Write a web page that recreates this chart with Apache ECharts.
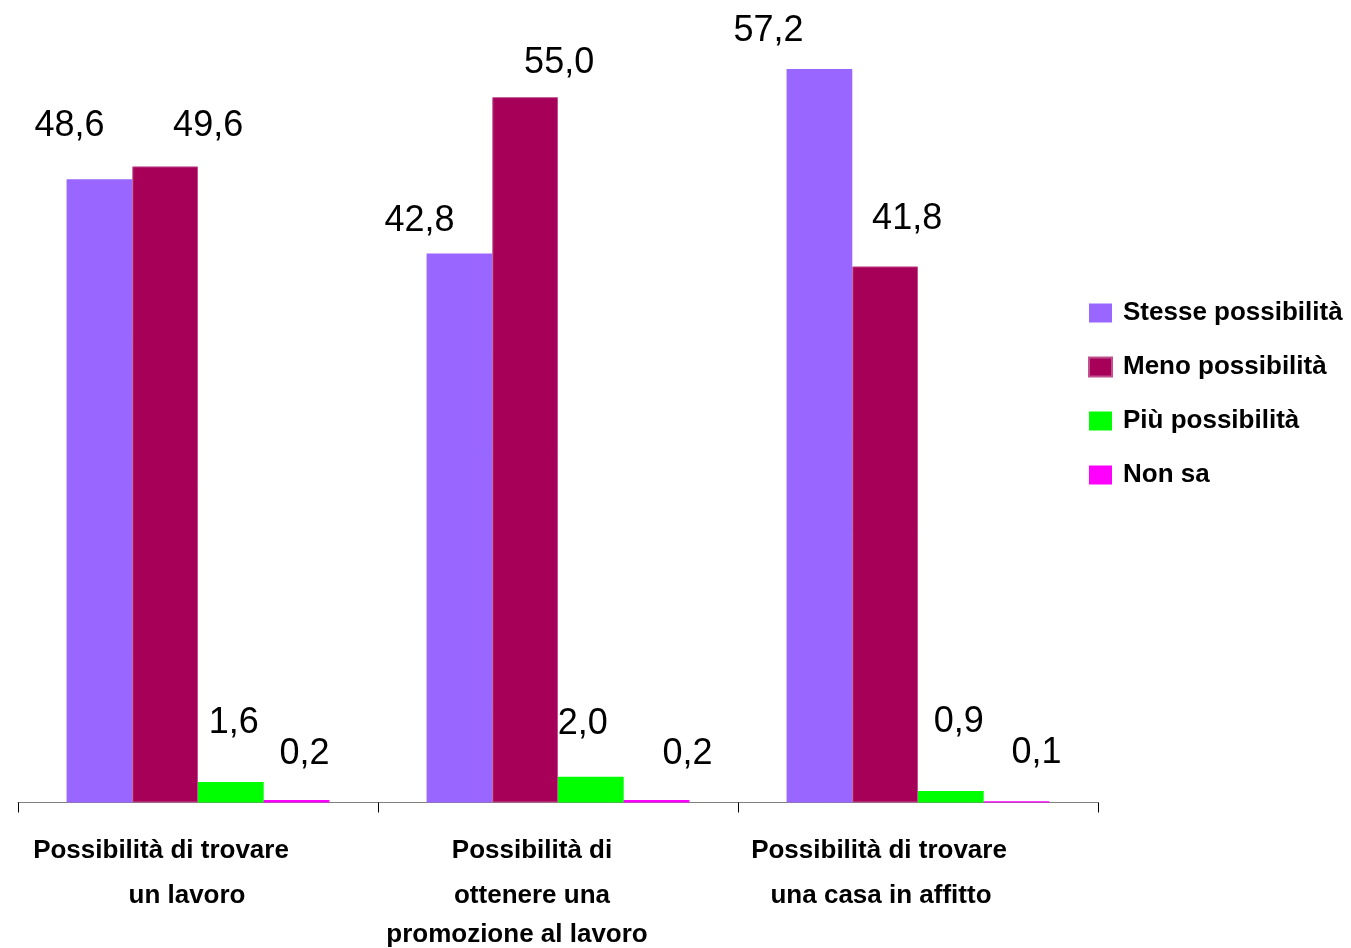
<!DOCTYPE html>
<html>
<head>
<meta charset="utf-8">
<title>Possibilità</title>
<script src="https://cdn.jsdelivr.net/npm/echarts@6/dist/echarts.min.js"></script>
<style>
  html, body { margin: 0; padding: 0; background: #ffffff; }
  #chart { width: 1351px; height: 948px; }
</style>
</head>
<body>
<div id="chart"></div>
<script>
// Categories (line breaks as printed under the axis)
const categories = [
  'Possibilità di trovare\nun lavoro',
  'Possibilità di\nottenere una\npromozione al lavoro',
  'Possibilità di trovare\nuna casa in affitto'
];

// Series names and values (%)
const seriesNames = ['Stesse possibilità', 'Meno possibilità', 'Più possibilità', 'Non sa'];
const stesse = [48.6, 42.8, 57.2];
const meno = [49.6, 55.0, 41.8];
const piu = [1.6, 2.0, 0.9];
const nonSa = [0.2, 0.2, 0.1];

const seriesValues = [stesse, meno, piu, nonSa];
const colors = ['#9966FF', '#A60058', '#00FF00', '#FF00FF'];
const borders = ['#9966FF', '#C0508E', '#00FF00', '#FF00FF'];

// Hand-placed nudges [dx, dy] for the value labels of each series, per category
const labelNudge = [
  [[-30, -35], [-40, -15], [-51, -20]],
  [[43, -22], [34, -16], [22, -29]],
  [[3, -41], [-8, -35], [8, -51]],
  [[8, -28], [31, -28], [20, -30]]
];

// Horizontal shift of each category label line relative to the category centre
const catLineShift = [
  [-37, -11],
  [-26, -26, -41],
  [-39, -37]
];

const FONT = "'Liberation Sans', Arial, Helvetica, sans-serif";

const rich = {};
catLineShift.forEach((lines, i) => {
  lines.forEach((s, j) => {
    rich['c' + i + '_' + j] = {
      fontFamily: FONT,
      fontSize: 26,
      fontWeight: 'bold',
      color: '#000000',
      lineHeight: j === 2 ? 33 : 45,
      padding: [0, -2 * s, 0, 0]
    };
  });
});

const fmt = v => v.toFixed(1).replace('.', ',');

const series = seriesValues.map((vals, s) => ({
  name: seriesNames[s],
  type: 'bar',
  barGap: '0%',
  barCategoryGap: '27%',
  itemStyle: { color: colors[s], borderColor: borders[s], borderWidth: s === 1 ? 1 : 0 },
  data: vals.map((v, i) => ({
    value: v,
    label: { offset: labelNudge[s][i] }
  })),
  label: {
    show: true,
    position: 'top',
    distance: 0,
    fontFamily: FONT,
    fontSize: 36,
    color: '#000000',
    formatter: p => fmt(p.value)
  }
}));

const chart = echarts.init(document.getElementById('chart'), null, { renderer: 'canvas' });
chart.setOption({
  animation: false,
  backgroundColor: '#ffffff',
  color: colors,
  grid: { left: 18, right: 253, top: 33, bottom: 145, containLabel: false },
  legend: {
    orient: 'vertical',
    left: 1083,
    top: 295,
    itemWidth: 23,
    itemHeight: 19,
    itemGap: 28,
    icon: 'rect',
    textStyle: {
      fontFamily: FONT,
      fontSize: 26,
      fontWeight: 'bold',
      color: '#000000',
      padding: [0, 0, 0, 6]
    },
    data: seriesNames
  },
  xAxis: {
    type: 'category',
    data: categories,
    axisLine: { show: true, lineStyle: { color: '#808080', width: 1 } },
    axisTick: { show: true, length: 10, lineStyle: { color: '#000000', width: 1 } },
    axisLabel: {
      interval: 0,
      margin: 26,
      formatter: (value, idx) =>
        value.split('\n').map((line, j) => '{c' + idx + '_' + j + '|' + line + '}').join('\n'),
      rich: rich
    }
  },
  yAxis: {
    type: 'value',
    min: 0,
    max: 60,
    show: false,
    splitLine: { show: false }
  },
  series: series
});
</script>
</body>
</html>
